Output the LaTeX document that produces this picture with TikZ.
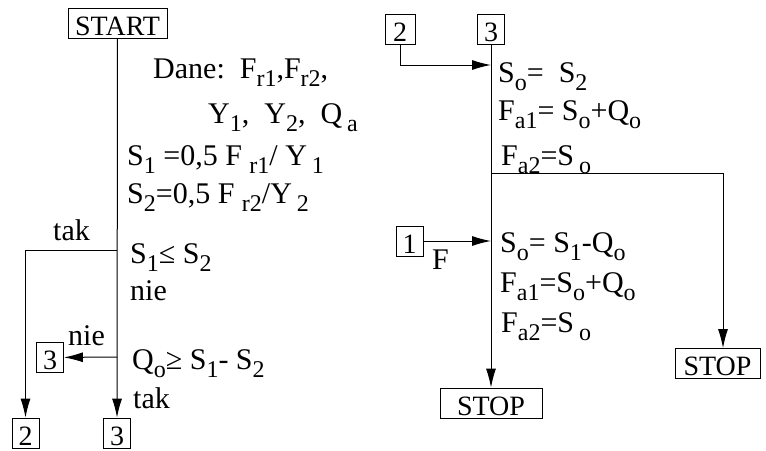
\documentclass[tikz,border=0pt]{standalone}
\usepackage{fontspec}
\setmainfont{Liberation Serif}
\usetikzlibrary{arrows.meta}
\newcommand{\low}[1]{\raisebox{-8pt}{\fontsize{24}{24}\selectfont #1}}

\tikzset{
  box/.style={draw,line width=.8pt,inner sep=0pt,text height=27pt,text depth=3pt,font=\fontsize{28}{30}\selectfont},
  txt/.style={anchor=base west,inner sep=0pt,font=\fontsize{30}{32}\selectfont},
  flow/.style={line width=1pt},
  arr/.style={flow,-{Latex[length=19pt,width=10pt]}}
}

\begin{document}
\begin{tikzpicture}[x=1pt,y=-1pt]
\useasboundingbox (0,0) rectangle (766,450);

% lewa czesc
\node[box,minimum width=99pt] (start) at (117.5,23.5) {START};
\node[box,minimum width=27pt] (goA) at (25.5,433) {2};
\node[box,minimum width=27pt] (goB) at (117,433) {3};
\node[box,minimum width=27pt] (goC) at (50,357.5) {3};

\coordinate (ifA) at (117,250);
\coordinate (ifB) at (117,357);

\draw[arr] (start) -- (goB);
\draw[arr] (ifA) -| (goA);
\draw[arr] (ifB) -- (goC);

\node[txt] (dane) at (153,78) {Dane:\ \ F\low{r1},F\low{r2},};
\node[txt] (daneB) at (208,123) {Y\low{1},\ \ Y\low{2},\ \ Q\,\low{a}};
\node[txt] (sA) at (127,165) {S\low{1} =0,5 F \low{r1}/ Y\,\low{1}};
\node[txt] (sB) at (127,203) {S\low{2}=0,5 F \low{r2}/Y\,\low{2}};
\node[txt] (takA) at (53,240) {tak};
\node[txt] (condA) at (130,263) {S\low{1}≤ S\low{2}};
\node[txt] (nieA) at (130,300) {nie};
\node[txt] (nieB) at (68,345) {nie};
\node[txt] (condB) at (132,369) {Q\low{o}≥ S\low{1}- S\low{2}};
\node[txt] (takB) at (133,408) {tak};

% prawa czesc
\node[box,minimum width=30pt] (inB) at (400,29) {2};
\node[box,minimum width=27pt] (inC) at (491,29) {3};
\node[box,minimum width=27pt] (inA) at (409.5,241) {1};
\node[box,minimum width=102pt] (stopA) at (491,403) {STOP};
\node[box,minimum width=85pt] (stopB) at (717.5,363.5) {STOP};

\coordinate (joinB) at (491,65);
\coordinate (split) at (491,173);
\coordinate (joinA) at (491,241);
\coordinate (turn) at (723,173);

\draw[arr] (inC) -- (stopA);
\draw[arr] (inB) |- (joinB);
\draw[arr] (inA) -- (joinA);
\draw[arr] (split) -- (turn) -- (turn |- stopB.north);

\node[txt] (soB) at (498,82) {S\low{o}= \ S\low{2}};
\node[txt] (faB) at (498,120) {F\low{a1}= S\low{o}+Q\low{o}};
\node[txt] (fbB) at (501,165) {F\low{a2}=S\,\low{o}};
\node[txt] (flag) at (432,269) {F};
\node[txt] (soA) at (500,252) {S\low{o}= S\low{1}-Q\low{o}};
\node[txt] (faA) at (500,292) {F\low{a1}=S\low{o}+Q\low{o}};
\node[txt] (fbA) at (501,332) {F\low{a2}=S\,\low{o}};

\end{tikzpicture}
\end{document}
